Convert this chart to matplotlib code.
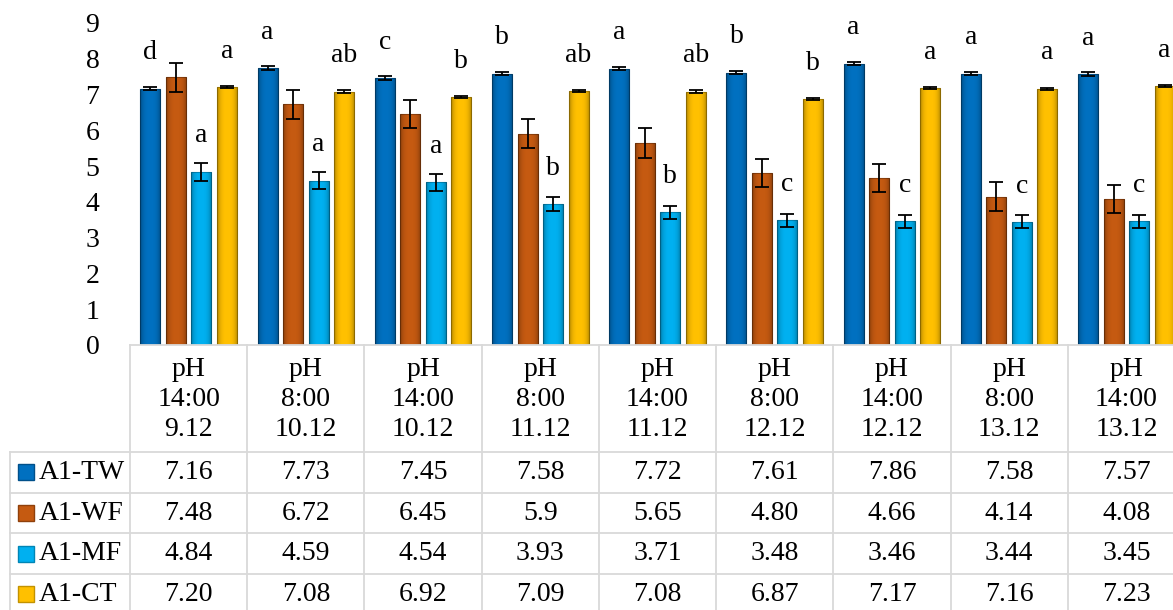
import numpy as np
import matplotlib
matplotlib.use("Agg")
import matplotlib.pyplot as plt

plt.rcParams['font.family'] = ['Liberation Serif', 'DejaVu Serif']

# data
cats = ["pH\n14:00\n9.12", "pH\n8:00\n10.12", "pH\n14:00\n10.12", "pH\n8:00\n11.12",
        "pH\n14:00\n11.12", "pH\n8:00\n12.12", "pH\n14:00\n12.12", "pH\n8:00\n13.12",
        "pH\n14:00\n13.12"]
series = ["A1-TW", "A1-WF", "A1-MF", "A1-CT"]
tw_txt = ["7.16", "7.73", "7.45", "7.58", "7.72", "7.61", "7.86", "7.58", "7.57"]
wf_txt = ["7.48", "6.72", "6.45", "5.9", "5.65", "4.80", "4.66", "4.14", "4.08"]
mf_txt = ["4.84", "4.59", "4.54", "3.93", "3.71", "3.48", "3.46", "3.44", "3.45"]
ct_txt = ["7.20", "7.08", "6.92", "7.09", "7.08", "6.87", "7.17", "7.16", "7.23"]
tw_err = [0.05, 0.05, 0.05, 0.05, 0.05, 0.05, 0.05, 0.05, 0.05]
wf_err = [0.40, 0.40, 0.40, 0.40, 0.42, 0.40, 0.40, 0.40, 0.40]
mf_err = [0.25, 0.23, 0.23, 0.20, 0.18, 0.18, 0.18, 0.18, 0.18]
ct_err = [0.03, 0.03, 0.03, 0.03, 0.03, 0.03, 0.03, 0.03, 0.03]
tw_let = ["d", "a", "c", "b", "a", "b", "a", "a", "a"]
mf_let = ["a", "a", "a", "b", "b", "c", "c", "c", "c"]
ct_let = ["a", "ab", "b", "ab", "ab", "b", "a", "a", "a"]

texts = [tw_txt, wf_txt, mf_txt, ct_txt]
vals = [[float(s) for s in t] for t in texts]
errs = [tw_err, wf_err, mf_err, ct_err]
lets = [tw_let, None, mf_let, ct_let]
colors = ["#0070C0", "#C55A11", "#00B0F0", "#FFC000"]
edges = ["#00508a", "#8f400b", "#0085b5", "#c29200"]

W, H = 1173, 610
fig = plt.figure(figsize=(W / 100, H / 100), dpi=100)
left, right, base, top = 130, 1185, 345, 22.8
ax = fig.add_axes([left / W, (H - base) / H, (right - left) / W, (base - top) / H])
ax_t = fig.add_axes([left / W, 0, (right - left) / W, (H - base) / H])

n = len(cats)
x = np.arange(n) + 0.5
step = 0.2176
bw = 0.171
fs = 20

# dark overlay at the bar edges for a rounded look
t = np.linspace(-1, 1, 40)
shade = np.zeros((1, 40, 4))
shade[0, :, 3] = 0.3 * np.abs(t) ** 3

for i in range(4):
    xi = x + (i - 1.5) * step
    bars = ax.bar(xi, vals[i], width=bw, color=colors[i], edgecolor=edges[i], linewidth=0.8, zorder=2)
    for b in bars:
        im = ax.imshow(shade, extent=[b.get_x(), b.get_x() + b.get_width(), 0, b.get_height()],
                       aspect="auto", zorder=2.5, interpolation="bilinear")
        im.set_clip_path(b)
    ax.errorbar(xi, vals[i], yerr=errs[i], fmt="none", ecolor="black", elinewidth=1.3,
                capsize=5, capthick=1.3, zorder=3)
    if lets[i] is not None:
        for xx, v, s in zip(xi, vals[i], lets[i]):
            ax.text(xx, v + 1.0, s, ha="center", va="center", fontsize=fs)

ax.set_xlim(0, n)
ax.set_ylim(0, 9)
ax.set_yticks(range(10))
ax.set_xticks([])
ax.tick_params(axis="y", length=0, pad=22, labelsize=fs)
for sp in ax.spines.values():
    sp.set_visible(False)

# data table under the chart
head_h = 107
row_h = 40.7
grid = "#d9d9d9"
ax_t.set_xlim(0, n)
ax_t.set_ylim(H - base, 0)
ax_t.axis("off")
lab_left = (10 - left) / (right - left) * n
ax_t.plot([0, n], [0, 0], color=grid, lw=1.3, clip_on=False)
for k in range(5):
    yy = head_h + k * row_h
    ax_t.plot([lab_left, n], [yy, yy], color=grid, lw=1.3, clip_on=False)
for k in range(n + 1):
    ax_t.plot([k, k], [0, H - base], color=grid, lw=1.3, clip_on=False)
ax_t.plot([lab_left, lab_left], [head_h, H - base], color=grid, lw=1.3, clip_on=False)

for j, c in enumerate(cats):
    ax_t.text(x[j], head_h / 2 + 1, c, ha="center", va="center", fontsize=fs, linespacing=1.28)

key_x = (26 - left) / (right - left) * n
name_x = (39 - left) / (right - left) * n
for i in range(4):
    yy = head_h + (i + 0.5) * row_h
    ax_t.plot(key_x, yy, marker="s", ms=11, color=colors[i], mec=edges[i], clip_on=False)
    ax_t.text(name_x, yy, series[i], ha="left", va="center", fontsize=fs, clip_on=False)
    for j in range(n):
        ax_t.text(x[j], yy, texts[i][j], ha="center", va="center", fontsize=fs)

fig.savefig("out.png", dpi=100)
